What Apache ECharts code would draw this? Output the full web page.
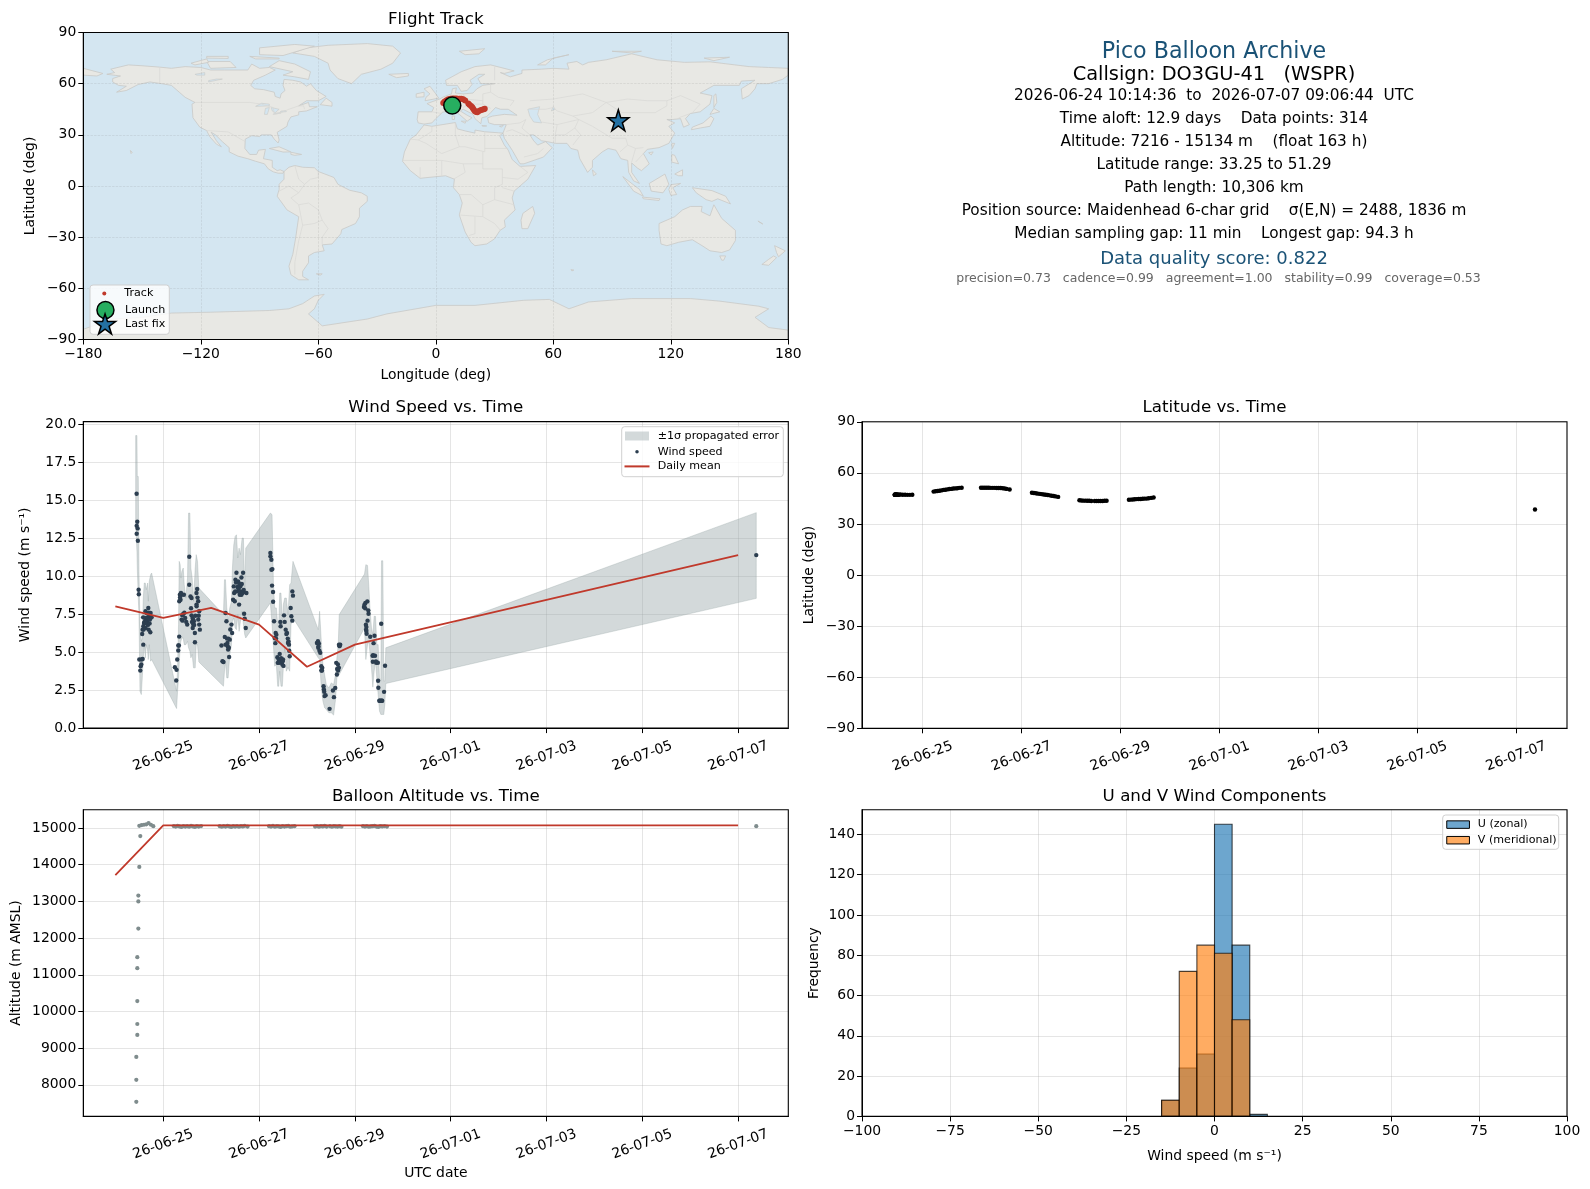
<!DOCTYPE html>
<html><head><meta charset="utf-8">
<script src="https://cdn.jsdelivr.net/npm/echarts@6/dist/echarts.min.js"></script>
<style>html,body{margin:0;padding:0;background:#fff}#c{width:1590px;height:1189px}</style>
</head><body><div id="c"></div>
<script>
// ---------- DATA ----------
var dateTickDays=[0,2,4,6,8,10,12];
var dateTickLabels=['26-06-25','26-06-27','26-06-29','26-07-01','26-07-03','26-07-05','26-07-07'];
var lonTicks=[-180,-120,-60,0,60,120,180];
var latTicks=[-90,-60,-30,0,30,60,90];
var windTicks=[0,2.5,5,7.5,10,12.5,15,17.5,20];
var altTicks=[8000,9000,10000,11000,12000,13000,14000,15000];
var histXTicks=[-100,-75,-50,-25,0,25,50,75,100];
var histYTicks=[0,20,40,60,80,100,120,140];

// daily means (days since 2026-06-25 00:00)
var dailyDay=[-1,0,1,2,3,4,12];
var dailyWind=[8.03,7.26,7.92,6.82,4.04,5.5,11.4];
var dailyAlt=[13720,15075,15075,15075,15075,15075,15075];

// wind speed points: [day, m/s]
var windPoints=[
[-.556,15.44],[-.555,13.33],[-.554,12.81],[-.542,13.6],[-.535,13.16],[-.53,12.35],[-.514,9.12],[-.51,8.82],[-.5,4.52],[-.479,3.79],[-.472,4.08],[-.458,4.19],[-.451,4.52],[-.431,6.49],[-.43,4.56],[-.417,5.5],[-.416,6.71],[-.403,6.93],[-.39,7.0],[-.382,7.26],[-.368,6.6],[-.36,7.1],[-.347,7.59],[-.34,7.04],[-.33,7.3],[-.312,7.92],[-.31,7.26],[-.305,6.49],[-.29,7.4],[-.278,7.15],[-.27,6.32],[-.264,7.59],[-.243,7.3],
[.243,4.01],[.271,3.14],[.278,3.84],[.292,4.52],[.313,5.11],[.314,5.44],[.326,5.44],[.333,6.03],[.334,8.36],[.347,8.79],[.361,8.46],[.382,8.79],[.383,7.15],[.396,7.43],[.403,7.08],[.431,8.79],[.458,7.26],[.5,6.82],[.542,9.45],[.543,11.29],[.569,8.68],[.59,8.57],[.591,7.43],[.611,7.26],[.625,7.15],[.626,6.82],[.639,7.04],[.66,6.27],[.661,5.66],[.694,8.9],[.695,8.14],[.696,8.03],[.708,9.17],[.729,8.36],[.73,7.15],[.75,7.7],[.751,6.82],[.764,6.49],
[1.215,5.44],[1.236,4.41],[1.257,4.36],[1.285,6.01],[1.299,5.5],[1.3,7.59],[1.319,7.04],[1.34,5.61],[1.354,5.18],[1.375,4.69],[1.389,5.83],[1.424,6.82],[1.438,6.27],[1.458,8.46],[1.472,9.34],[1.493,8.36],[1.507,9.78],[1.528,10.24],[1.542,9.01],[1.563,9.67],[1.583,8.14],[1.597,8.79],[1.611,9.34],[1.632,9.93],[1.633,8.79],[1.667,10.24],[1.668,8.95],[1.688,7.54],[1.701,7.21],[1.722,6.6],[1.736,8.9],
[2.236,11.54],[2.237,11.32],[2.257,11.1],[2.258,10.44],[2.278,10.48],[2.271,9.39],[2.292,8.97],[2.293,8.33],[2.313,7.04],[2.326,5.94],[2.347,6.27],[2.361,6.16],[2.382,4.67],[2.41,4.52],[2.431,4.89],[2.444,7.0],[2.451,6.71],[2.472,4.45],[2.486,4.19],[2.5,4.52],[2.521,7.43],[2.535,7.0],[2.556,6.49],[2.583,6.27],[2.604,5.61],[2.625,5.5],[2.639,4.74],[2.66,7.92],[2.674,7.37],[2.694,7.08],[2.695,9.01],[2.708,8.73],
[3.208,5.61],[3.229,5.72],[3.236,5.29],[3.25,5.57],[3.278,4.96],[3.299,4.08],[3.313,3.79],[3.319,3.97],[3.347,2.76],[3.354,2.54],[3.368,2.11],[3.389,2.17],[3.472,1.27],[3.542,2.48],[3.563,2.04],[3.59,2.65],[3.611,4.3],[3.625,3.53],[3.646,4.19],[3.667,3.97],[3.668,5.5],[3.694,5.5],
[4.19,7.98],[4.2,8.13],[4.22,8.24],[4.23,6.81],[4.235,6.49],[4.24,6.66],[4.245,6.22],[4.26,8.35],[4.265,7.08],[4.28,7.76],[4.285,7.54],[4.32,6.02],[4.37,4.77],[4.375,4.37],[4.39,5.6],[4.41,6.09],[4.42,4.77],[4.445,4.31],[4.48,4.31],[4.485,3.12],[4.49,2.66],[4.51,1.8],[4.54,1.8],[4.55,6.88],[4.57,1.8],[4.61,2.39],[4.63,4.11],
[-.44,6.2],[-.42,7.3],[-.41,6.5],[-.37,7.7],[-.35,6.9],[-.32,6.8],[-.3,7.6],[-.285,6.9],
[.35,8.6],[.37,8.9],[.41,7.5],[.44,7.6],[.48,7.0],[.58,7.9],[.6,7.0],[.615,6.6],[.645,6.8],[.67,7.4],[.715,8.6],[.74,7.4],
[1.33,5.9],[1.345,5.4],[1.36,5.9],[1.37,5.3],[1.4,6.5],[1.48,8.9],[1.5,9.0],[1.52,9.6],[1.55,9.3],[1.575,9.2],[1.59,9.5],[1.62,9.0],[1.65,8.9],[1.64,9.5],[1.68,9.1],
[2.34,5.6],[2.355,5.9],[2.39,4.3],[2.42,4.3],[2.46,4.6],[2.495,4.4],[2.51,4.1],[2.57,6.2],[2.6,5.9],[2.615,5.7],[2.63,5.1],
[3.24,5.4],[3.26,5.1],[3.3,3.8],[3.36,2.4],[3.63,3.9],[3.65,3.8],[3.68,5.4],
[4.215,7.9],[4.24,6.4],[4.38,4.8],[4.44,4.4],[4.52,1.8],[4.56,1.8],
[12.379,11.4]];

// +/-1 sigma envelope
var bandDay=[-.576,-.549,-.542,-.521,-.507,-.486,-.458,-.438,-.417,-.396,-.375,-.354,-.326,-.312,-.292,-.264,-.243,.278,.299,.319,.333,.354,.368,.389,.417,.438,.472,.507,.528,.556,.576,.604,.632,.667,.688,.715,.743,1.257,1.278,1.299,1.326,1.354,1.389,1.424,1.444,1.472,1.5,1.528,1.556,1.583,1.611,1.646,1.674,1.701,1.722,2.236,2.271,2.299,2.326,2.361,2.389,2.41,2.431,2.458,2.486,2.507,2.535,2.569,2.604,2.639,2.667,2.708,3.236,3.264,3.299,3.333,3.368,3.403,3.458,3.507,3.556,3.597,3.625,3.653,3.674,4.201,4.229,4.264,4.292,4.319,4.347,4.375,4.403,4.431,4.458,4.486,4.514,4.542,4.556,4.583,4.604,4.625,4.646,12.379];
var bandUpper=[19.28,19.28,16.58,16.58,10.33,6.82,5.72,5.94,8.57,9.56,9.56,9.12,9.56,8.36,9.67,10.11,10.22,2.43,3.97,6.82,10.99,10.77,9.89,10.33,10.55,9.45,8.57,9.89,14.17,14.17,10.55,9.89,8.36,10.55,11.43,10.99,9.23,7.48,9.78,9.78,7.92,7.04,7.92,8.36,10.55,12.08,12.63,12.74,11.21,11.86,11.43,12.52,12.52,8.9,11.86,14.17,14.07,9.67,7.92,7.92,6.82,6.6,8.9,8.9,6.82,8.14,8.57,8.57,7.48,9.45,9.56,10.99,6.49,7.7,5.72,4.19,3.53,2.87,2.65,2.98,2.87,3.53,4.63,5.5,7.48,10.15,10.77,10.72,9.34,7.7,6.6,6.16,7.37,7.37,5.5,5.5,3.31,3.09,11.03,11.03,3.09,3.09,5.29,14.2];
var bandLower=[13.62,11.64,10.55,8.57,7.48,2.43,2.21,3.31,4.63,5.5,4.63,5.5,5.07,4.52,5.5,4.41,4.52,1.29,2.43,3.31,4.19,5.5,5.72,5.94,5.94,5.5,5.5,5.72,5.29,5.07,4.63,4.85,3.97,3.97,5.5,5.5,4.36,2.76,3.75,4.41,3.31,3.31,4.85,5.5,7.04,7.26,6.6,6.49,7.48,6.38,7.04,7.7,6.82,6.16,5.94,8.25,6.82,5.5,4.08,4.19,2.76,2.76,3.75,2.76,2.76,4.0,5.29,3.75,4.0,3.75,6.82,7.26,4.63,4.52,2.65,1.78,1.34,1.23,1.01,1.01,.86,1.89,3.31,3.53,3.53,6.6,4.52,5.5,5.72,4.85,3.97,2.7,3.75,4.41,3.31,2.21,1.12,.9,.9,.9,.9,1.56,2.94,8.55];

// latitude and altitude during float, same timestamps
var floatDay=[.222,.26,.30,.34,.38,.42,.46,.50,.54,.58,.62,.66,.70,.74,.79,
1.18,1.22,1.26,1.30,1.34,1.38,1.42,1.46,1.50,1.54,1.58,1.62,1.66,1.70,1.76,
2.21,2.25,2.29,2.33,2.37,2.41,2.45,2.49,2.53,2.57,2.61,2.65,2.69,2.74,
3.17,3.21,3.25,3.29,3.33,3.37,3.41,3.48,3.52,3.56,3.60,3.64,3.68,3.72,
4.17,4.21,4.25,4.29,4.33,4.37,4.41,4.45,4.49,4.53,4.57,4.62,4.67];
var floatLat=[49.0,49.2,49.4,49.5,49.7,50.0,50.1,50.3,50.5,50.6,50.8,50.9,51.0,51.2,51.3,
51.3,51.3,51.3,51.3,51.25,51.2,51.2,51.2,51.15,51.1,51.1,51.0,50.8,50.6,50.2,
48.3,48.2,48.0,47.8,47.7,47.5,47.3,47.2,47.0,46.8,46.6,46.4,46.2,45.9,
43.9,43.8,43.7,43.7,43.6,43.6,43.5,43.5,43.5,43.5,43.5,43.5,43.6,43.6,
44.2,44.3,44.4,44.5,44.6,44.7,44.7,44.8,44.9,44.9,45.1,45.3,45.5];
var floatAlt=[15050,15040,15060,15045,15030,15055,15040,15050,15035,15060,15045,15030,15050,15040,15055,
15050,15035,15055,15040,15060,15045,15030,15050,15040,15055,15035,15050,15045,15060,15040,
15050,15040,15060,15035,15050,15045,15030,15055,15040,15050,15060,15035,15045,15050,
15040,15055,15035,15050,15045,15060,15040,15050,15035,15055,15045,15040,15050,15035,
15050,15040,15055,15035,15045,15050,15060,15040,15030,15050,15045,15055,15040];

// ascent: day, altitude, latitude
var ascentDay=[-.5625,-.5625,-.5625,-.5417,-.5417,-.5417,-.5417,-.5417,-.52,-.52,-.52,-.5,-.479,-.5,-.451,-.403,-.354,-.306,-.257,-.208];
var ascentAlt=[7538,8136,8761,9360,9659,10284,11180,11480,12260,13000,13160,13940,14780,15060,15080,15090,15100,15134,15090,15050];
var ascentLat=[47.2,47.2,47.2,47.2,47.2,47.2,47.2,47.2,47.2,47.2,47.2,47.2,47.2,47.2,47.3,47.2,47.2,47.1,47.1,47.2];
var lastDay=12.379, lastAlt=15050, lastLat=38.5;

// map track
var trackLon=[3.8,4.5,5.5,6.4,7.5,8.5,9.5,10.6,12,13,14,15,16.6,17.2,18,18.6,19,19.5,20,20.7,21.2,22,22.8,23.6,24.5,25];
var trackLat=[48.7,49.6,50.3,50.9,51.2,51.3,51.3,51.3,51.2,51.1,50.8,50.2,48.3,47.6,46.9,46.2,45.4,44.5,43.8,43.4,43.3,44,44.4,44.7,45,45.3];
var launchPos=[8.4,47.2];
var lastFixPos=[93.2,38.5];

// histogram
var binStart=[-15,-10,-5,0,5,10];
var binWidth=5;
var uCounts=[8,24,31,145,85,1];
var vCounts=[8,72,85,81,48,0];

// land outlines, lon/lat
var landShapes=[
[[-168,65.5],[-164,66.5],[-166,68.5],[-157,71],[-150,70.5],[-141,69.7],[-135,69],[-128,70],[-120,69.5],[-115,68],[-108,68],[-100,68],[-96,68],[-94,71.5],[-90,69],[-85,69.5],[-82,68],[-87,65],[-93,62],[-94.5,59],[-92.5,57],[-88,56.5],[-82.5,55],[-82,52.5],[-79.5,51.5],[-79,54],[-77,56],[-78,59],[-77.5,62.5],[-73,62],[-69,61],[-66,58.5],[-64,60],[-61,56],[-56,52.5],[-60,50],[-66,50],[-70,47],[-65,49],[-64.5,46.5],[-60.5,46.5],[-66,44],[-70,43.5],[-70,41.7],[-74,40.5],[-75.5,37.5],[-76,35],[-81,31.5],[-80,27],[-80.5,25.2],[-82.5,27.5],[-84,30],[-89,30],[-90,29],[-94,29.5],[-97.3,27.5],[-97.5,22],[-95,18.5],[-91.5,18.5],[-90.5,21],[-87,21.5],[-88,16],[-83.5,15],[-83.5,11],[-81,9],[-79.5,9.5],[-77.5,8.5],[-78,7.5],[-80.5,7.5],[-83,8.3],[-85.5,10],[-87.5,13],[-92,14.5],[-96,16],[-101,17.5],[-105.5,20],[-105.5,22.5],[-109,26],[-112.5,30],[-114.7,31.5],[-112,26.5],[-109.5,23],[-112,24.5],[-115.5,29],[-117,32.5],[-120.5,34.5],[-124,40],[-124.5,48],[-123,49],[-128,52],[-131,55],[-135,59],[-140,60],[-146,61],[-152,59.5],[-158,56],[-163,55],[-158,58.5],[-162,59],[-165,61],[-165,63],[-161,64.5]],
[[-73,78],[-66,81],[-55,82.5],[-35,83.5],[-22,82],[-18,78],[-22,72],[-28,68.5],[-38,65.5],[-43,60],[-50,63],[-54,68],[-55,72],[-62,76]],
[[-80,73.5],[-72,71.5],[-64,67],[-65,62.5],[-72,64],[-78,65],[-73,67],[-85,70]],
[[-117,73],[-105,73],[-102,69.5],[-115,69]],
[[-90,77],[-78,76.5],[-62,82],[-72,83],[-90,81]],
[[-125,72],[-117,74.5],[-116,72.5],[-123,71]],
[[-95,76],[-80,75],[-80,74.5],[-92,74.5]],
[[-117,76],[-106,76],[-106,74.8],[-117,75]],
[[-59,47.7],[-53,46.8],[-53,49],[-56,51.5]],
[[-85,22],[-80,23],[-74,20],[-78,19.9]],
[[-74,19.8],[-68.5,18.5],[-72,18],[-74,18.5]],
[[-156,20.8],[-155,19.8],[-155.6,19]],
[[-180,69],[-175,67.5],[-170,66],[-173,64.5],[-180,65]],
[[-77.5,8.5],[-75,11],[-72,12],[-68,11],[-62,10.7],[-60,8.5],[-52,5],[-50,1],[-44,-2.5],[-38,-4],[-35,-6],[-35,-9],[-39,-13],[-39,-18],[-41,-22],[-48,-25.5],[-48.5,-28],[-53,-34],[-58,-34.5],[-57,-38],[-62,-39],[-65,-41],[-65,-45],[-68,-50],[-68,-53],[-65,-55],[-70,-55],[-74,-52],[-75,-47],[-73,-40],[-71.5,-30],[-70,-18],[-76,-14],[-81,-6],[-80,-2],[-80,1],[-77.5,4]],
[[-6,35.8],[-2,35],[10,37.2],[11,33.5],[15,32.3],[20,31],[20,32.8],[25,31.8],[32,31.2],[34.3,31],[32.6,29.5],[35,24],[37,21],[39,15.5],[43,11.5],[51,12],[47,4],[40,-3],[39,-7],[40.5,-14],[35,-20],[35.5,-24],[32.8,-26],[30,-31],[26,-34],[20,-35],[18,-33],[15,-27],[12,-17],[13.5,-10],[12,-5],[9,-1],[9.5,4],[5,6],[-4,5],[-8,4.5],[-13,9],[-17,14.5],[-16,20],[-13,27.5],[-10,30]],
[[49.5,-12],[50.5,-16],[47,-25],[44,-25],[43.5,-20],[44.5,-16]],
[[-9,37],[-9.5,39],[-9,43.5],[-2,43.5],[-1,46],[-4.5,48.3],[2,51],[4,52.3],[8,54],[8.5,57],[10.5,57.5],[10,54.5],[14,54],[19,54.5],[21,57],[24,59],[30,60],[23,60],[21.5,63],[25,65.5],[22,65.5],[17.5,62],[18.5,59.5],[16,56],[13,55.5],[11,59],[5.5,59],[5,62],[13,67],[20,70],[28,71],[40,67.5],[35,66],[33,66.5],[38,64],[44,66],[44,68],[54,68.5],[60,69],[68,68.5],[67,72],[72,73],[75,71],[78,72.5],[87,74],[100,77.5],[113,74],[127,72.5],[140,72.8],[160,70],[170,69.5],[180,69],[180,65],[177,62.5],[170,60],[164,60],[163,57],[160,53],[156.5,51],[156,57],[163,62],[156,61.5],[155,59],[142,59],[135,54.5],[141,53],[140,48],[135,43.5],[130,42.5],[127.5,39.5],[129.5,36],[126.5,34.5],[125,39.5],[121,39],[118,39],[122,37],[119,35],[122,31],[119,25],[114,22.5],[108,21.5],[106,19],[109,13],[105,9],[103,10.5],[100,13.5],[100,8],[104,1.5],[101,3],[98.5,8],[98,15],[94.5,16],[92,21],[88,22],[85,20],[80,15],[80,11],[77.5,8],[73.5,16],[72.5,21],[69,22],[67,25],[61,25],[57,26],[54,26.5],[50,30],[48,30],[50,26.5],[52,24],[56,26],[59.5,22.5],[55,17],[45,13],[43,13],[39,21],[35,28],[34.3,31],[36,36],[30,36],[27,37],[26.5,40],[29,41],[35,42],[41.5,41.5],[37,45],[33,45],[30.5,46],[28,43],[26,40.7],[23.5,40],[23,36.5],[20,39.5],[19,42],[14,45],[12.5,44],[16,41.5],[18.5,40],[16,38],[12,42],[8.5,44.3],[3.5,43.3],[0,39.5],[-2,37],[-6,36.3]],
[[-5.5,50],[1.5,51.5],[0,54],[-3,58.5],[-6,57],[-3,54],[-5,52]],
[[-10,52],[-6,52.3],[-6,55],[-10,54]],
[[-24,65.5],[-14,66],[-14,64.5],[-20,63.5]],
[[12,79],[25,80.5],[22,77.5],[15,77]],
[[52,71],[57,74],[68,77],[60,75],[56,71]],
[[90,79],[105,79],[100,78]],
[[137,75],[150,75.5],[142,73.5]],
[[13,38],[15.5,38],[15,36.8]],
[[8.3,41],[9.7,41],[9.5,39],[8.4,39]],
[[23.5,35.5],[26,35.2],[24,35]],
[[32.5,35],[34.5,35.5],[33.5,34.6]],
[[130.5,33],[135,34],[140,35],[142,39.5],[140.5,41],[136.5,37],[131,34.5]],
[[140,42],[145,43.5],[142,45.5]],
[[142,46],[143.5,49],[143,54],[142,53]],
[[120.5,25],[122,25],[120.8,22]],
[[108.7,19.5],[111,20],[110,18.2]],
[[120.5,18.5],[122,18],[124,13],[120.5,14]],
[[122,7],[126,9.5],[126,6],[124,6]],
[[109,1.5],[117,7],[119,1],[116,-4],[110,-3]],
[[95.5,5.5],[104,-2],[106,-6],[101,-3]],
[[105.5,-6.5],[114.5,-7.5],[114,-8.5],[106,-7.5]],
[[120,.8],[125,1.5],[121,-1],[123,-5],[120,-5.5],[119,-2]],
[[131,-1],[141,-2.7],[148,-6],[150.5,-10.5],[144,-7.5],[141,-9],[138,-8],[133,-4]],
[[114,-22],[122,-18],[126,-14],[130,-12],[136,-12],[135.5,-15],[140,-17.5],[142,-11],[146,-19],[153,-26],[153,-32],[150,-37.5],[146,-39],[140,-38],[136,-35],[131,-31.5],[124,-33],[118,-35],[115,-34],[114,-26]],
[[145,-41],[148,-41],[147,-43.5],[146,-43.5]],
[[173,-35],[178.5,-38],[175,-41.5],[174,-39]],
[[172.5,-41],[174,-42],[170,-46.5],[166.5,-46],[170,-43]],
[[80,9.5],[82,7],[80.5,6]],
[[-61,-51.5],[-58,-51.5],[-59,-52.3]],
[[69,-49],[70.5,-49.3],[69.5,-49.8]],
[[165,-21],[167,-22.3],[164.5,-20.5]],
[[-180,-84],[-165,-78],[-150,-77],[-135,-74.5],[-115,-74],[-100,-73.5],[-85,-73],[-75,-72],[-68,-69],[-62,-64.5],[-57,-63.5],[-60,-67],[-62,-72],[-65,-75],[-58,-82],[-35,-78],[-25,-75],[0,-70],[20,-70],[45,-67],[58,-66.5],[68,-72],[78,-68],[100,-66],[130,-66],[145,-67.5],[165,-70.5],[170,-72],[163,-77],[170,-83],[180,-84.5],[180,-90],[-180,-90]]
];
var waterShapes=[
[[47,45],[53,46.5],[52,42],[54,37],[50,37.5],[48,41]],
[[-92,46.7],[-85,47],[-85,48],[-89,48.5]],
[[-87.5,42],[-86,42],[-85,46],[-87,45.5]],
[[-84,46],[-80,45],[-82,43],[-83.5,44]],
[[-83,42],[-79,42.8],[-79.5,43],[-82.5,42.6]],
[[-79.5,43.3],[-76.3,43.6],[-76.5,44.2],[-79,43.9]],
[[-123,65.5],[-118,66.5],[-118,65],[-122,65]],
[[-116,61],[-109,62.7],[-112,62.7],[-116,61.8]],
[[60,46.5],[61,45],[59,44]]
];
var borderLines=[
[[-141,69.7],[-141,60]],[[-123,49],[-95,49],[-89,48],[-83,46],[-82.5,42],[-79,43],[-75,45],[-70,47],[-67.5,47],[-67,45]],[[-117,32.5],[-106,31.7],[-97.3,26]],
[[-72,12],[-70,4],[-67,1],[-70,-4],[-74,-7],[-70,-11],[-69,-17],[-68,-23],[-70,-32],[-72,-45],[-72,-52]],[[-60,8.5],[-60,5],[-64,4],[-67,1]],[[-58,-20],[-60,-14],[-65,-10],[-70,-11]],[[-68,-23],[-62,-22],[-58,-20],[-55,-25],[-58,-30],[-58,-34]],[[-80,-3],[-75,0],[-70,-4]],
[[-9,27],[-2,32],[-2,35]],[[-13,27.5],[-9,27],[-5,25],[3,19],[12,23],[10,30],[10,37]],[[12,23],[15,23],[25,20],[25,31.8]],[[25,22],[37,22]],[[24,20],[24,10],[34,10],[34,5],[42,4],[47,8],[43,11.5]],[[-17,15],[-5,15],[3,15],[14,13],[24,13]],[[14,13],[15,8],[9,4]],[[3,15],[3,6]],[[-8,11],[-8,4.5]],[[12,-5],[18,-5],[24,-11],[30,-8],[30,-1],[34,1],[34,5]],[[12,-17],[24,-18],[30,-22],[33,-26]],[[24,-18],[24,-11]],[[20,-18],[20,-28],[17,-29]],[[30,-8],[40,-11]],[[34,-1],[40,-3]],
[[8,54],[6,50],[8,48],[7,44]],[[14,54],[15,51],[13,48],[10,47],[7,46]],[[-2,43.5],[3,42.5]],[[24,54],[24,48],[28,45.5]],[[15,51],[24,50]],[[24,48],[17,48],[14,46]],[[28,55],[32,52],[40,50],[38,47]],[[28,60],[28,55],[24,54]],[[30,70],[30,62]],
[[48,45],[56,45],[60,46],[62,44],[70,41],[73,39],[62,36],[54,37.5]],[[48,50],[60,51],[75,54],[87,49],[80,43],[70,41]],[[87,49],[98,51],[108,50],[118,50],[125,53],[135,48],[131,43]],[[87,49],[95,43],[112,43],[118,47],[118,50]],[[73,39],[80,35],[90,28],[97,28],[98,24],[102,22],[106,22.5]],[[62,36],[61,30],[61,25]],[[73,39],[71,34],[66,30],[61,30]],[[71,34],[74,30],[70,24]],[[36,36],[43,37],[46,39],[44,34],[48,30]],[[36,32],[39,33],[47,29]],[[45,17],[52,19],[55,22]],[[98,24],[94,20]],[[102,22],[100,14]],[[106,19],[102,14]],[[124,40],[130,42.5]]
];

// ---------- TEXT ----------
var infoLines=[
 ['Pico Balloon Archive',52.5,22.2,'#1a5276',1214],
 ['Callsign: DO3GU-41   (WSPR)',75,19.4,'#000',1214],
 ['2026-06-24 10:14:36  to  2026-07-07 09:06:44  UTC',96.5,15.3,'#000',1214],
 ['Time aloft: 12.9 days    Data points: 314',119.5,15.3,'#000',1214],
 ['Altitude: 7216 - 15134 m    (float 163 h)',142.5,15.3,'#000',1214],
 ['Latitude range: 33.25 to 51.29',165.5,15.3,'#000',1214],
 ['Path length: 10,306 km',188.5,15.3,'#000',1214],
 ['Position source: Maidenhead 6-char grid    \u03C3(E,N) = 2488, 1836 m',211.5,15.3,'#000',1214],
 ['Median sampling gap: 11 min    Longest gap: 94.3 h',234.5,15.3,'#000',1214],
 ['Data quality score: 0.822',259.5,18,'#1a5276',1214],
 ['precision=0.73   cadence=0.99   agreement=1.00   stability=0.99   coverage=0.53',279,12.5,'#666',1218.5]
];

// ---------- LAYOUT ----------
var FONT='"DejaVu Sans"';
var P={
 map:{left:83.3,top:32.5,width:705,height:307},
 wind:{left:83.3,top:421.6,width:705,height:306.5},
 lat:{left:862,top:421.8,width:705,height:306.5},
 alt:{left:83.3,top:809.7,width:705,height:306.7},
 hist:{left:862,top:809.7,width:705,height:306.7}
};
var order=['map','wind','lat','alt','hist'];
var GRIDC='rgba(176,176,176,0.33)';
var RED='#c0392b', NAVY='#2c3e50', GREY='#7f8c8d';
var STAR='path://M12 0 L14.69 8.29 L23.41 8.29 L16.36 13.42 L19.05 21.71 L12 16.58 L4.95 21.71 L7.64 13.42 L0.59 8.29 L9.31 8.29 Z';

function signed(v){return String(v).replace('-','\u2212');}
function ax(gi,min,max,ticks,fmt,extra){
  var o={type:'value',gridIndex:gi,min:min,max:max,
    axisLine:{show:true,onZero:false,lineStyle:{color:'#000',width:1}},
    axisTick:{show:true,length:5,customValues:ticks,lineStyle:{color:'#000',width:1}},
    axisLabel:{show:true,customValues:ticks,formatter:fmt,color:'#000',fontFamily:FONT,fontSize:13.9,margin:7,hideOverlap:false},
    splitLine:{show:true,lineStyle:{color:GRIDC,width:1}}};
  for(var k in (extra||{})) o[k]=extra[k];
  return o;
}
function dateFmt(v){var i=dateTickDays.indexOf(v);return i<0?'':dateTickLabels[i];}
function dateAxis(gi,min,max,extra){
  var o=ax(gi,min,max,dateTickDays,dateFmt,extra);
  o.axisLabel.rotate=20;o.axisLabel.align='center';o.axisLabel.verticalAlign='middle';o.axisLabel.margin=28;
  return o;
}
function nm(s,gap){return {name:s,nameLocation:'middle',nameGap:gap,nameTextStyle:{color:'#000',fontFamily:FONT,fontSize:13.9}};}

var xAxis=[
  ax(0,-180,180,lonTicks,signed,Object.assign({z:3},nm('Longitude (deg)',29))),
  dateAxis(1,-1.669,13.048),
  dateAxis(2,-1.225,13.026),
  dateAxis(3,-1.669,13.048,nm('UTC date',50)),
  ax(4,-100,100,histXTicks,signed,nm('Wind speed (m s\u207B\u00B9)',33))
];
var yAxis=[
  ax(0,-90,90,latTicks,signed,Object.assign({z:3},nm('Latitude (deg)',46))),
  ax(1,0,20.2,windTicks,function(v){return v.toFixed(1);},nm('Wind speed (m s\u207B\u00B9)',51)),
  ax(2,-90,90,latTicks,signed,nm('Latitude (deg)',46)),
  ax(3,7140,15500,altTicks,String,nm('Altitude (m AMSL)',60)),
  ax(4,0,152.25,histYTicks,String,nm('Frequency',41))
];
xAxis[0].splitLine.lineStyle={color:'rgba(120,120,120,0.24)',width:.6,type:'dashed'};
yAxis[0].splitLine.lineStyle={color:'rgba(120,120,120,0.24)',width:.6,type:'dashed'};
xAxis[0].axisLabel.margin=8;xAxis[4].axisLabel.margin=8;

function polySeries(list,fill,stroke,lw,z){
  return {type:'custom',xAxisIndex:0,yAxisIndex:0,z:z,silent:true,clip:true,coordinateSystem:'cartesian2d',
    data:list.map(function(){return [0,0];}),
    renderItem:function(p,api){
      return {type:'polygon',shape:{points:list[p.dataIndexInside].map(function(c){return api.coord(c);})},
        style:{fill:fill,stroke:stroke,lineWidth:lw}};
    }};
}
function lineSeries(list,stroke,lw,z){
  return {type:'custom',xAxisIndex:0,yAxisIndex:0,z:z,silent:true,clip:true,coordinateSystem:'cartesian2d',
    data:list.map(function(){return [0,0];}),
    renderItem:function(p,api){
      return {type:'polyline',shape:{points:list[p.dataIndexInside].map(function(c){return api.coord(c);})},
        style:{fill:'none',stroke:stroke,lineWidth:lw}};
    }};
}
function histSeries(name,counts,fill){
  return {type:'custom',name:name,xAxisIndex:4,yAxisIndex:4,z:2,silent:true,
    itemStyle:{color:fill,borderColor:'rgba(0,0,0,0.7)',borderWidth:1},
    data:binStart.map(function(s,i){return [s,s+binWidth,counts[i]];}).filter(function(d){return d[2]>0;}),
    encode:{x:[0,1],y:2},
    renderItem:function(p,api){
      var a=api.coord([api.value(0),api.value(2)]),b=api.coord([api.value(1),0]);
      return {type:'rect',shape:{x:a[0],y:a[1],width:b[0]-a[0],height:b[1]-a[1]},
        style:{fill:fill,stroke:'rgba(0,0,0,0.7)',lineWidth:1.1}};
    }};
}
function zip(a,b){return a.map(function(v,i){return [v,b[i]];});}

var BAND='rgba(149,165,166,0.42)';
var series=[
  polySeries(landShapes,'#e8e8e4','#c9c9c6',.8,1),
  polySeries(waterShapes,'#d4e6f1','#c9c9c6',.6,1),
  lineSeries(borderLines,'#d9d9d5',.7,1),
  {type:'scatter',name:'Track',xAxisIndex:0,yAxisIndex:0,z:4,symbolSize:6,itemStyle:{color:RED,opacity:1},data:zip(trackLon,trackLat)},
  {type:'scatter',name:'Launch',xAxisIndex:0,yAxisIndex:0,z:5,symbol:'circle',symbolSize:17,itemStyle:{color:'#27ae60',borderColor:'#000',borderWidth:1.5,opacity:1},data:[launchPos]},
  {type:'scatter',name:'Last fix',xAxisIndex:0,yAxisIndex:0,z:5,symbol:STAR,symbolSize:21,itemStyle:{color:'#2471a3',borderColor:'#000',borderWidth:1.5,opacity:1},data:[lastFixPos]},
  {type:'custom',name:'\u00B11\u03C3 propagated error',xAxisIndex:1,yAxisIndex:1,z:1,silent:true,clip:true,
    itemStyle:{color:BAND},data:[[0,0]],
    renderItem:function(p,api){
      var pts=[],i;
      for(i=0;i<bandDay.length;i++)pts.push(api.coord([bandDay[i],bandUpper[i]]));
      for(i=bandDay.length-1;i>=0;i--)pts.push(api.coord([bandDay[i],bandLower[i]]));
      return {type:'polygon',shape:{points:pts},style:{fill:BAND,stroke:BAND,lineWidth:.8}};
    }},
  {type:'scatter',name:'Wind speed',xAxisIndex:1,yAxisIndex:1,z:3,symbolSize:4.4,itemStyle:{color:NAVY,opacity:1},data:windPoints},
  {type:'line',name:'Daily mean',xAxisIndex:1,yAxisIndex:1,z:4,symbol:'none',lineStyle:{color:RED,width:1.8},itemStyle:{color:RED},data:zip(dailyDay,dailyWind)},
  {type:'scatter',xAxisIndex:2,yAxisIndex:2,z:3,symbolSize:4.4,itemStyle:{color:'#000',opacity:1},
    data:zip(ascentDay.concat(floatDay,[lastDay]),ascentLat.concat(floatLat,[lastLat]))},
  {type:'scatter',xAxisIndex:3,yAxisIndex:3,z:3,symbolSize:4.2,itemStyle:{color:GREY,opacity:1},
    data:zip(ascentDay.concat(floatDay,[lastDay]),ascentAlt.concat(floatAlt,[lastAlt]))},
  {type:'line',xAxisIndex:3,yAxisIndex:3,z:4,symbol:'none',lineStyle:{color:RED,width:1.8},itemStyle:{color:RED},data:zip(dailyDay,dailyAlt)},
  histSeries('U (zonal)',uCounts,'rgba(31,119,180,0.65)'),
  histSeries('V (meridional)',vCounts,'rgba(255,127,14,0.65)')
];

function legendItem(name,cx,cy,w,h,textX,style,icon){
  var left=cx-w/2, pad=textX-(left+w+5);
  var d={name:name};
  if(icon)d.icon=icon;
  if(style)d.itemStyle=style;
  return {show:true,data:[d],left:left,top:cy-Math.max(h,13)/2,itemWidth:w,itemHeight:h,padding:0,selectedMode:false,z:6,orient:'vertical',
    textStyle:{color:'#000',fontFamily:FONT,fontSize:11.1,padding:[0,0,0,pad],lineHeight:13}};
}
var legend=[
  legendItem('Track',104.3,293.6,4,4,124.3,{color:RED},'circle'),
  legendItem('Launch',104.7,309.3,17,17,124.3,{color:'#27ae60',borderColor:'#000',borderWidth:1.5},'circle'),
  legendItem('Last fix',104.3,323.7,21,21,124.3,{color:'#2471a3',borderColor:'#000',borderWidth:1.5},STAR),
  legendItem('\u00B11\u03C3 propagated error',637,436,24,9,657.7,{color:BAND},'rect'),
  legendItem('Wind speed',637,451.8,3.5,3.5,657.7,{color:NAVY},'circle'),
  legendItem('Daily mean',637,466.4,25,2,657.7,{color:RED},'rect'),
  legendItem('U (zonal)',1457.6,824.6,22.7,7.5,1477.3,{color:'rgba(31,119,180,0.65)',borderColor:'#000',borderWidth:1},'rect'),
  legendItem('V (meridional)',1457.6,840.2,22.7,7.5,1477.3,{color:'rgba(255,127,14,0.65)',borderColor:'#000',borderWidth:1},'rect')
];

var graphics=[];
order.forEach(function(k){var g=P[k];
  graphics.push({type:'rect',silent:true,z:50,shape:{x:g.left,y:g.top,width:g.width,height:g.height},style:{fill:'none',stroke:'#000',lineWidth:1.1}});
});
[[90,285,79.3,49.3],[621.7,426.7,161.6,50],[1442.7,815,116,34.3]].forEach(function(f){
  graphics.push({type:'rect',silent:true,z:5,shape:{x:f[0],y:f[1],width:f[2],height:f[3],r:3},style:{fill:'rgba(255,255,255,0.8)',stroke:'#d0d0d0',lineWidth:1}});
});

var titles=[
  ['Flight Track',P.map,20],['Wind Speed vs. Time',P.wind,408],['Latitude vs. Time',P.lat,408],
  ['Balloon Altitude vs. Time',P.alt,797],['U and V Wind Components',P.hist,797]
].map(function(t){return {text:t[0],left:t[1].left+t[1].width/2,top:t[2]-9,textAlign:'center',padding:0,textStyle:{color:'#000',fontFamily:FONT,fontSize:16.7,fontWeight:'normal',lineHeight:18}};});
infoLines.forEach(function(l){
  titles.push({text:l[0],left:l[4],top:l[1]-l[2]*.55,textAlign:'center',padding:0,
    textStyle:{color:l[3],fontFamily:FONT,fontSize:l[2],fontWeight:'normal',lineHeight:l[2]*1.1}});
});

var chart=echarts.init(document.getElementById('c'),null,{renderer:'canvas',width:1590,height:1189});
chart.setOption({
  animation:false,backgroundColor:'#fff',
  title:titles,legend:legend,
  grid:order.map(function(k){var g=P[k];
    var o={left:g.left,top:g.top,width:g.width,height:g.height,containLabel:false,show:k==='map',borderWidth:0};
    if(k==='map')o.backgroundColor='#d4e6f1';
    return o;}),
  xAxis:xAxis,yAxis:yAxis,series:series,graphic:{elements:graphics}
});
</script></body></html>
